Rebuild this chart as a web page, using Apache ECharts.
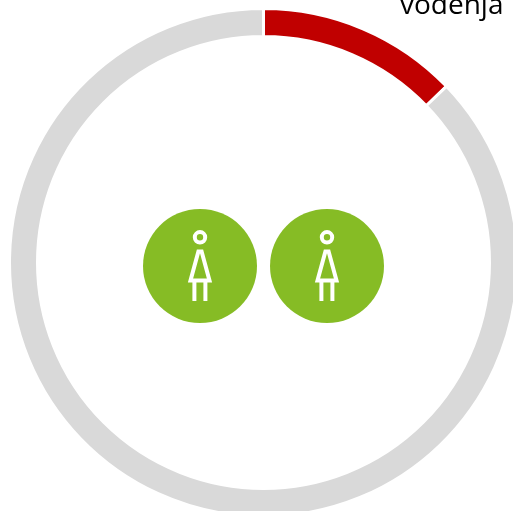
<!DOCTYPE html>
<html>
<head>
<meta charset="utf-8">
<style>html,body{margin:0;padding:0;background:#fff}#c{width:513px;height:511px}</style>
<script src="https://cdn.jsdelivr.net/npm/echarts@6/dist/echarts.min.js"></script>
</head>
<body>
<div id="c"></div>
<script>
const sliceNames = ['vodenja', 'ostalo'];
const sliceValues = [12.8, 87.2];
const sliceColors = ['#C00000', '#D9D9D9'];
const caption = 'vodenja';
const figureCount = 2;

function figure(cx, cy) {
  const white = { fill: 'none', stroke: '#fff', lineWidth: 4, lineJoin: 'miter' };
  return {
    type: 'group', x: cx, y: cy,
    children: [
      { type: 'circle', shape: { cx: 0, cy: 0, r: 57 }, style: { fill: '#86BC25' } },
      { type: 'circle', shape: { cx: 0, cy: -28.7, r: 5.2 }, style: white },
      { type: 'polygon', shape: { points: [[-1.6, -14.5], [1.6, -14.5], [9.5, 14.5], [-9.5, 14.5]] }, style: white },
      { type: 'line', shape: { x1: -5.6, y1: 15, x2: -5.6, y2: 35 }, style: white },
      { type: 'line', shape: { x1: 5.4, y1: 15, x2: 5.4, y2: 35 }, style: white }
    ]
  };
}

const figures = [];
for (let i = 0; i < figureCount; i++) figures.push(figure(200 + i * 127, 266));

const chart = echarts.init(document.getElementById('c'), null, { renderer: 'canvas' });
chart.setOption({
  animation: false,
  backgroundColor: '#fff',
  series: [{
    type: 'pie',
    center: [263.5, 262.5],
    radius: [226, 254],
    startAngle: 90,
    clockwise: true,
    silent: true,
    label: { show: false },
    labelLine: { show: false },
    itemStyle: { borderColor: '#fff', borderWidth: 3 },
    data: sliceNames.map((n, i) => ({ name: n, value: sliceValues[i], itemStyle: { color: sliceColors[i] } }))
  }],
  graphic: figures.concat([{
    type: 'text', x: 400, y: -8,
    style: { text: caption, fontFamily: 'Open Sans', fontSize: 28, fill: '#000' }
  }])
});
</script>
</body>
</html>
